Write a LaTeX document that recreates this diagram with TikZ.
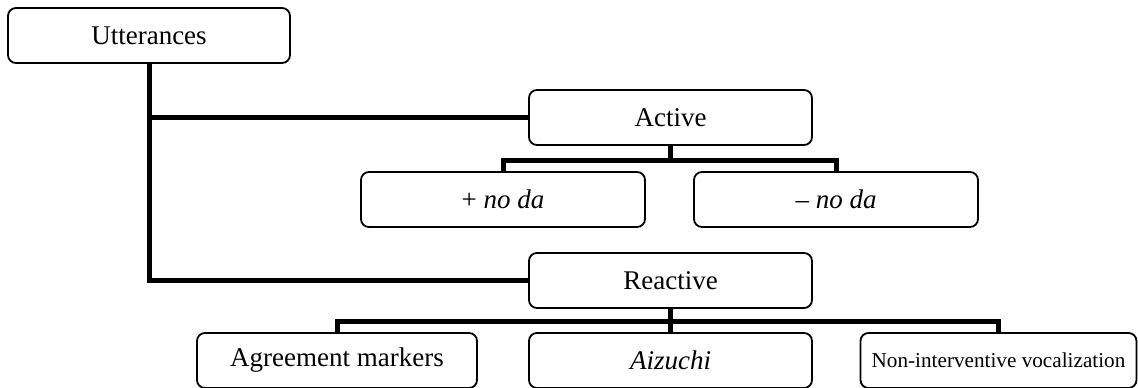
\documentclass[tikz,border=0pt]{standalone}
\usepackage{fontspec}
\setmainfont{Liberation Serif}
\begin{document}
\begin{tikzpicture}[x=1pt,y=-1pt,
  box/.style={draw, line width=1.8pt, rounded corners=8pt, minimum height=55pt, inner sep=0pt, font=\fontsize{27}{32}\selectfont},
  conn/.style={line width=5pt, line cap=butt, line join=miter}]
\useasboundingbox (0,0) rectangle (1138,388);
\node[box, minimum width=282pt] (utt) at (149,35.5) {Utterances};
\node[box, minimum width=283pt] (act) at (670.5,117.5) {Active};
\node[box, minimum width=284pt] (pnd) at (503,199.5) {+ \textit{no da}};
\node[box, minimum width=284pt] (mnd) at (836,199.5) {\textit{– no da}};
\node[box, minimum width=283pt] (rea) at (670.5,280.5) {Reactive};
\node[box, minimum width=280pt] (agr) at (337,360.5) {Agreement markers};
\node[box, minimum width=283pt] (aiz) at (670.5,360.5) {\textit{Aizuchi}};
\node[box, minimum width=276pt, font=\fontsize{21.2}{25}\selectfont] (non) at (998.5,360.5) {Non-interventive vocalization};
\coordinate (aj) at (670.5,160);
\coordinate (rj) at (670.5,321);
\draw[conn] (utt.south) -- (utt.south |- rea.west) -- (rea.west);
\draw[conn] (utt.south |- act.west) -- (act.west);
\draw[conn] (act.south) -- (aj);
\draw[conn] (pnd.north) -- (pnd.north |- aj) -- (mnd.north |- aj) -- (mnd.north);
\draw[conn] (rea.south) -- (aiz.north);
\draw[conn] (agr.north) -- (agr.north |- rj) -- (non.north |- rj) -- (non.north);
\end{tikzpicture}
\end{document}
